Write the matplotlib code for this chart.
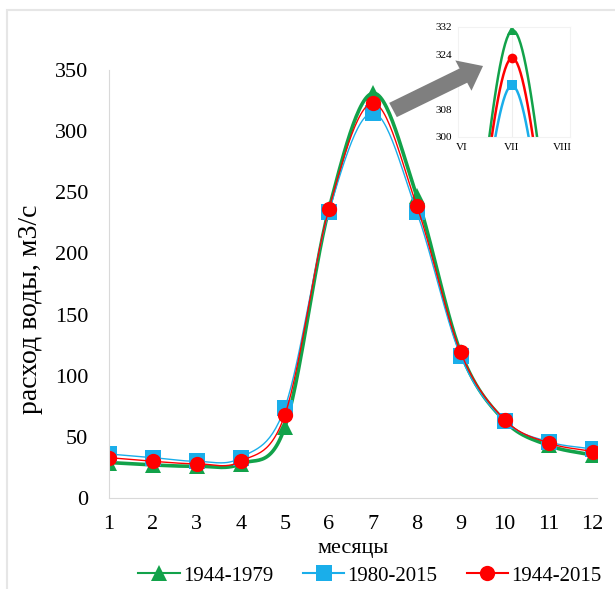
import numpy as np
from matplotlib import pyplot as plt
from matplotlib.patches import FancyArrow, Rectangle

plt.rcParams['font.family'] = ['Liberation Serif', 'DejaVu Serif']

# месяцы и расход воды, м3/с
months = np.arange(1, 13)
q_1944_1979 = [29, 27, 26, 28, 58, 236, 331, 247, 119, 63, 43, 35]
q_1980_2015 = [36, 33, 30, 33, 74, 234, 315, 234, 116, 63, 46, 40]
q_1944_2015 = [33, 30, 28, 30, 68, 236, 323, 239, 119, 64, 45, 38]
inset_ticks = [300, 308, 316, 324, 332]
inset_labels = ['300', '308', '-', '324', '332']
roman = ['VI', 'VII', 'VIII']


def smooth(x, y, n=30):
    # catmull-rom curve through the points, like excel smoothed lines
    x = np.asarray(x, float)
    y = np.asarray(y, float)
    px = np.concatenate([[2*x[0]-x[1]], x, [2*x[-1]-x[-2]]])
    py = np.concatenate([[2*y[0]-y[1]], y, [2*y[-1]-y[-2]]])
    t = np.linspace(0, 1, n)[:, None]
    xs, ys = [], []
    for i in range(1, len(px)-2):
        for p, out in ((px, xs), (py, ys)):
            p0, p1, p2, p3 = p[i-1], p[i], p[i+1], p[i+2]
            c = 0.5*((2*p1) + (-p0+p2)*t + (2*p0-5*p1+4*p2-p3)*t**2
                     + (-p0+3*p1-3*p2+p3)*t**3)
            out.append(c.ravel())
    return np.concatenate(xs), np.concatenate(ys)


series = [
    (q_1944_1979, '1944-1979', '#12A24A', '^', 2.6),
    (q_1980_2015, '1980-2015', '#1AAEEA', 's', 1.0),
    (q_1944_2015, '1944-2015', '#FF0000', 'o', 1.0),
]

fig = plt.figure(figsize=(6.15, 5.89), dpi=100)
fig.add_artist(Rectangle((7/615, -0.1), 1.2, 1 - 10/589 + 0.1,
                         transform=fig.transFigure, fill=False,
                         edgecolor='#e6e6e6', linewidth=1.5))

ax = fig.add_axes([109/615, 1-498/589, (597-109)/615, (498-70)/589])
for vals, name, col, mk, lw in series:
    sx, sy = smooth(months, vals)
    ax.plot(sx, sy, color=col, linewidth=lw)
    ax.plot(months, vals, linestyle='none', marker=mk, markersize=11,
            color=col, markeredgewidth=0)
    ax.plot([], [], color=col, marker=mk, markersize=11, linewidth=1.5,
            markeredgewidth=0, label=name)

ax.set_xlim(1, 12.1)
ax.set_ylim(0, 350)
ax.set_xticks(months)
ax.set_yticks(np.arange(0, 351, 50))
ax.tick_params(length=0, labelsize=16, pad=12)
ax.tick_params(axis='y', pad=15)
for s in ['top', 'right']:
    ax.spines[s].set_visible(False)
for s in ['left', 'bottom']:
    ax.spines[s].set_color('#d9d9d9')
ax.set_xlabel('месяцы', fontsize=16, labelpad=4)
ax.set_ylabel('расход воды, м3/с', fontsize=20)
ax.yaxis.set_label_coords(-0.135, 0.44)
ax.legend(loc='upper center', bbox_to_anchor=(0.535, -0.115), ncol=3,
          frameon=False, fontsize=15, handlelength=2.0, handletextpad=0.15,
          columnspacing=1.4)

# inset with the peak (June - August only)
ins = fig.add_axes([458/615, 1-137/589, (570-458)/615, (137-27)/589])
for vals, name, col, mk, lw in series:
    sx, sy = smooth(months[5:8], vals[5:8])
    ins.plot(sx, sy, color=col, linewidth=1.8)
    ins.plot(months[6], vals[6], linestyle='none', marker=mk, markersize=7,
             color=col, markeredgewidth=0)
ins.axvline(7, color='#eeeeee', linewidth=0.8, zorder=0)
ins.set_xlim(5.92, 8.16)
ins.set_ylim(300, 332)
ins.set_yticks(inset_ticks)
ins.set_yticklabels(inset_labels)
ins.set_xticks([6, 7, 8])
ins.set_xticklabels(roman)
ins.tick_params(length=0, labelsize=8, pad=4)
for s in ins.spines.values():
    s.set_color('#f2f2f2')

fig.add_artist(FancyArrow(393/615, 1-110/589, 90/615, 44/589,
                          width=16/589, head_width=34/589, head_length=22/615,
                          length_includes_head=True, transform=fig.transFigure,
                          color='#7f7f7f', linewidth=0))

plt.savefig('out.png', dpi=100)
